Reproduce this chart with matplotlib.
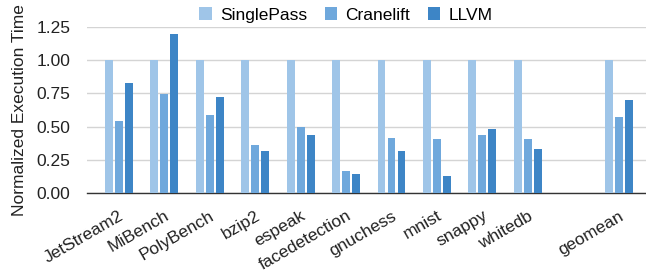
import numpy as np
import matplotlib
matplotlib.use("Agg")
import matplotlib.pyplot as plt
import matplotlib.transforms as mtransforms

categories = ["JetStream2", "MiBench", "PolyBench", "bzip2", "espeak", "facedetection",
              "gnuchess", "mnist", "snappy", "whitedb", "", "geomean"]
singlepass = [1.0, 1.0, 1.0, 1.0, 1.0, 1.0, 1.0, 1.0, 1.0, 1.0, 0.0, 1.0]
cranelift = [0.54, 0.745, 0.59, 0.36, 0.50, 0.162, 0.415, 0.407, 0.437, 0.407, 0.0, 0.575]
llvm = [0.83, 1.20, 0.72, 0.32, 0.437, 0.14, 0.32, 0.125, 0.48, 0.33, 0.0, 0.70]
yticks = [0.0, 0.25, 0.5, 0.75, 1.0, 1.25]

plt.rcParams["font.family"] = ["Liberation Sans", "DejaVu Sans"]
fs = 12.5

fig = plt.figure(figsize=(6.46, 2.73), dpi=100)
ax = fig.add_axes([0.1347, 0.293, 0.8653, 0.608])

x = np.arange(len(categories))
w = 0.175
off = 0.22
ax.bar(x - off, singlepass, w, color="#9fc5e8", label="SinglePass", zorder=3)
ax.bar(x, cranelift, w, color="#6fa8dc", label="Cranelift", zorder=3)
ax.bar(x + off, llvm, w, color="#3d85c6", label="LLVM", zorder=3)

ax.set_xlim(-0.7, 11.6)
ax.set_ylim(0, 1.25)
ax.set_yticks(yticks)
ax.set_yticklabels([f"{v:.2f}" for v in yticks], fontsize=fs, color="#222222")
ax.yaxis.grid(True, color="#d4d4d4", linewidth=1.0, zorder=0)
ax.set_axisbelow(True)
ax.set_xticks(x)
ax.set_xticklabels(categories, rotation=30, ha="right", rotation_mode="anchor",
                   fontsize=fs, color="#222222")
shift = mtransforms.ScaledTranslation(11 / 72, 0, fig.dpi_scale_trans)
for lbl in ax.get_xticklabels():
    lbl.set_transform(lbl.get_transform() + shift)
ax.tick_params(axis="both", length=0)
ax.tick_params(axis="x", pad=11)
ax.tick_params(axis="y", pad=12)
for s in ["top", "right", "left"]:
    ax.spines[s].set_visible(False)
ax.spines["bottom"].set_color("#333333")
ax.spines["bottom"].set_linewidth(1.0)
ax.set_ylabel("Normalized Execution Time", fontsize=fs, color="#222222", labelpad=7)

fig.legend(loc="upper center", bbox_to_anchor=(346 / 646, 1.03), ncol=3, frameon=False,
           fontsize=fs, handlelength=0.7, handleheight=0.7, columnspacing=1.0,
           handletextpad=0.5)

fig.savefig("out.png", dpi=100)
